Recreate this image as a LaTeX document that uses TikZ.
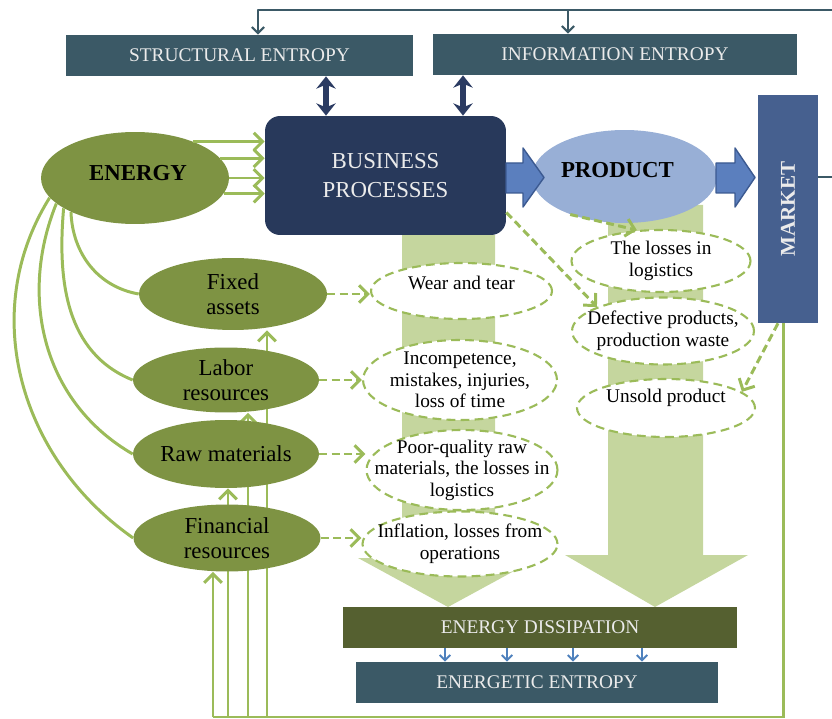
\documentclass[tikz,border=0pt]{standalone}
\usepackage{fontspec}
\setmainfont{Liberation Serif}
\usetikzlibrary{arrows.meta,shapes.geometric,backgrounds}
\definecolor{tealbox}{RGB}{59,89,102}
\definecolor{navybox}{RGB}{40,57,91}
\definecolor{prodblue}{RGB}{152,175,214}
\definecolor{arrblue}{RGB}{91,127,190}
\definecolor{arredge}{RGB}{60,90,145}
\definecolor{mktblue}{RGB}{70,96,143}
\definecolor{resgreen}{RGB}{126,147,67}
\definecolor{lgreen}{RGB}{155,187,89}
\definecolor{colgreen}{RGB}{197,214,158}
\definecolor{dissip}{RGB}{85,96,48}
\definecolor{dotblue}{RGB}{79,129,189}
\definecolor{dblnavy}{RGB}{43,59,98}
\begin{document}
\begin{tikzpicture}[x=0.02cm, y=-0.02cm, line join=round,
    box/.style={rectangle, inner sep=0pt, text=white!92!black, font=\fontsize{11}{13}\selectfont},
    res/.style={ellipse, fill=resgreen, inner sep=0pt},
    rtxt/.style={font=\fontsize{13}{14}\selectfont, align=center},
    btxt/.style={font=\bfseries\fontsize{13}{14}\selectfont},
    loss/.style={ellipse, draw=lgreen, fill=white, inner sep=0pt, line width=1.2pt, dash pattern=on 5pt off 3pt},
    ltxt/.style={font=\fontsize{11}{12.3}\selectfont, align=center},
    gline/.style={draw=lgreen, line width=1.7pt},
    garr/.style={gline, -{Straight Barb[length=5pt,width=10pt]}},
    darr/.style={garr, dash pattern=on 4.5pt off 2.5pt},
    tarr/.style={draw=tealbox, line width=1.2pt, -{Straight Barb[length=3.5pt,width=7pt]}},
    barr/.style={draw=dotblue, line width=1.1pt, -{Straight Barb[length=3pt,width=6pt]}},
    dbl/.style={draw=dblnavy, line width=3pt, {Stealth[length=7pt,width=11pt]}-{Stealth[length=7pt,width=11pt]}},
    fat/.style={fill=arrblue, draw=arredge, line width=0.8pt}]
\useasboundingbox (0,0) rectangle (832,719);

\node[box, fill=tealbox, minimum width=6.94cm, minimum height=0.82cm] (se) at (239.5,55.5) {STRUCTURAL ENTROPY};
\node[box, fill=tealbox, minimum width=7.28cm, minimum height=0.82cm] (ie) at (615,54.5) {INFORMATION ENTROPY};
\node[box, fill=navybox, rounded corners=0.3cm, minimum width=4.82cm, minimum height=2.38cm, align=center,
  font=\fontsize{13}{16.5}\selectfont] (bp) at (385.5,175.5) {BUSINESS\\PROCESSES};
\node[box, fill=mktblue, minimum width=1.2cm, minimum height=4.56cm] (market) at (788,209)
  {\rotatebox{90}{\bfseries\fontsize{12}{14}\selectfont MARKET}};
\node[box, fill=dissip, minimum width=7.88cm, minimum height=0.82cm] (ed) at (540,627.5) {ENERGY DISSIPATION};
\node[box, fill=tealbox, minimum width=7.24cm, minimum height=0.82cm] (ee) at (537,682.5) {ENERGETIC ENTROPY};

\node[res, minimum width=3.76cm, minimum height=1.84cm, label={[btxt,xshift=0.06cm,yshift=0.1cm]center:ENERGY}] (energy) at (135,178) {};
\node[ellipse, fill=prodblue, inner sep=0pt, minimum width=3.7cm, minimum height=1.86cm,
  label={[btxt,xshift=-0.14cm,yshift=0.12cm]center:PRODUCT}] (prod) at (624.5,176.5) {};

\node[res, minimum width=3.76cm, minimum height=1.44cm, label={[rtxt]center:{Fixed\\assets}}] (fix) at (233,294) {};
\node[res, minimum width=3.72cm, minimum height=1.3cm, label={[rtxt]center:{Labor\\resources}}] (lab) at (226,380) {};
\node[res, minimum width=3.72cm, minimum height=1.36cm, label={[rtxt]center:Raw materials}] (raw) at (226,454) {};
\node[res, minimum width=3.74cm, minimum height=1.34cm, label={[rtxt]center:{Financial\\resources}}] (fin) at (227,538) {};

\node[loss, minimum width=3.62cm, minimum height=1.12cm, label={[ltxt,yshift=0.16cm]center:Wear and tear}] (wear) at (461.5,291) {};
\node[loss, minimum width=3.88cm, minimum height=1.6cm, label={[ltxt]center:{Incompetence,\\mistakes, injuries,\\loss of time}}] (inc) at (460,380) {};
\node[loss, minimum width=3.82cm, minimum height=1.6cm, label={[ltxt]center:{Poor-quality raw\\materials, the losses in\\logistics}}] (poor) at (462,470) {};
\node[loss, minimum width=3.9cm, minimum height=1.3cm, label={[ltxt]center:{Inflation, losses from\\operations}}] (infl) at (460,544) {};
\node[loss, minimum width=3.58cm, minimum height=1.24cm, label={[ltxt]center:{The losses in\\logistics}}] (logi) at (661,261) {};
\node[loss, minimum width=3.64cm, minimum height=1.34cm, label={[ltxt]center:{Defective products,\\production waste}}] (defect) at (663,331) {};
\node[loss, minimum width=3.56cm, minimum height=1.16cm, label={[ltxt,yshift=0.2cm]center:Unsold product}] (unsold) at (666,408) {};

\coordinate (fbin) at (832,10);
\coordinate (mout) at (832,177);
\coordinate (loop) at (213,717);

\begin{scope}[on background layer]
\fill[colgreen] (402,235) -- (495,235) -- (495,558) -- (538,558) -- (448,607) -- (358,558) -- (402,558) -- cycle;
\fill[colgreen] (608,205) -- (703,205) -- (703,555) -- (748,555) -- (655,607) -- (565,555) -- (608,555) -- cycle;
\draw[gline] ([xshift=-0.1cm]market.south) |- (loop);
\foreach \x/\n in {213/fin,228/raw,248/lab,267/fix}
  \draw[garr] (loop -| \x,0) -- (\x,0 |- \n.south);
\end{scope}

\draw[tarr] (fbin) -| (258,0 |- se.north);
\draw[tarr] (fbin -| 568,0) -- (568,0 |- ie.north);
\draw[draw=tealbox, line width=1.2pt] (market.east |- mout) -- (mout);
\draw[dbl] (se.south -| 326,0) -- (bp.north -| 326,0);
\draw[dbl] (ie.south -| 463,0) -- (bp.north -| 463,0);

\fill[fat] (506,163) -- (523,163) -- (523,148) -- (544,177.5) -- (523,207) -- (523,193) -- (506,193) -- cycle;
\fill[fat] (716,163) -- (735,163) -- (735,148) -- (755,177.5) -- (735,207) -- (735,193) -- (716,193) -- cycle;

\foreach \a in {32,13,0,-10}
  \draw[garr] (energy.\a) -- (energy.\a -| bp.west);
\draw[gline] (energy.208) to[out=-88,in=170] (fix.west);
\draw[gline] (energy.203) to[out=-95,in=158] (lab.west);
\draw[gline] (energy.198) to[out=-112,in=150] (raw.west);
\draw[gline] (energy.193) to[out=-122,in=145] (fin.west);

\draw[darr] (fix.east) -- (fix.east -| wear.west);
\draw[darr] (lab.east) -- (lab.east -| inc.west);
\draw[darr] (raw.east) -- (raw.east -| poor.west);
\draw[darr] (fin.east) -- (fin.east -| infl.west);
\draw[darr] (prod.215) -- (logi.128);
\draw[darr] (bp.-17) -- (defect.160);
\draw[darr] (market.-95) -- (unsold.12);

\foreach \x in {445,507,573,642}
  \draw[barr] (ed.south -| \x,0) -- (ee.north -| \x,0);
\end{tikzpicture}
\end{document}
